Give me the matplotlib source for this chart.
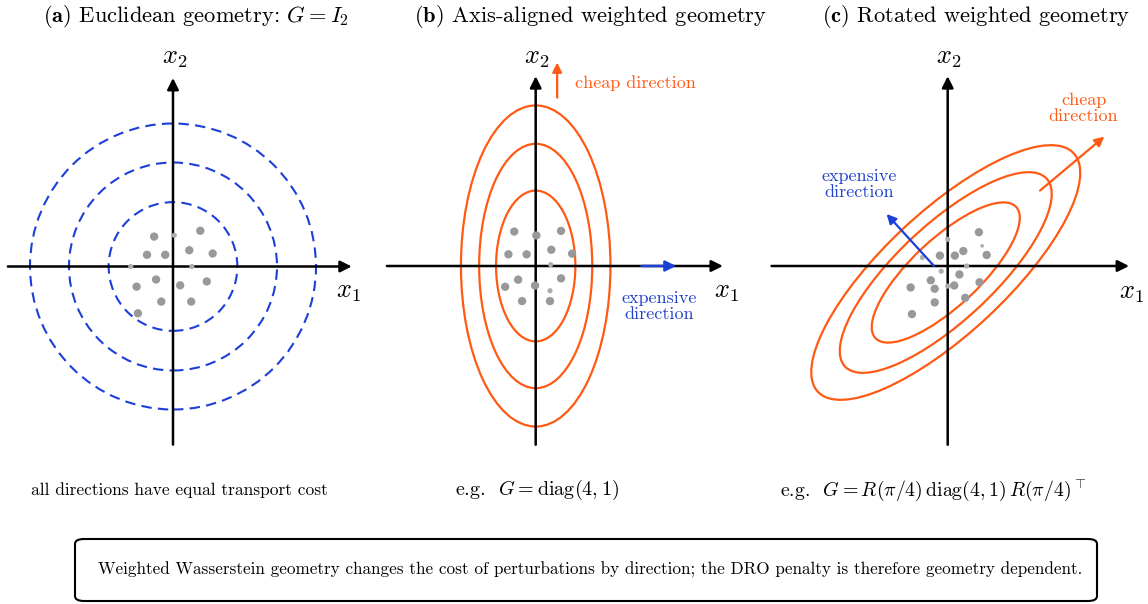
import matplotlib
matplotlib.use("Agg")
import matplotlib.pyplot as plt
from matplotlib.patches import Ellipse, FancyBboxPatch

plt.rcParams['font.family'] = ['cmr10', 'DejaVu Serif']
plt.rcParams['mathtext.fontset'] = 'cm'
plt.rcParams['axes.unicode_minus'] = False

W, H = 1148, 604
S = 65.0  # px per data unit

BLUE = '#1c3fd8'
BLUE_T = '#2342cc'
ORANGE = '#ff5a14'
GREY = '#999999'

# ---------------- data ----------------
titles = [r"($\mathbf{a}$) Euclidean geometry: $G = I_2$",
          r"($\mathbf{b}$) Axis-aligned weighted geometry",
          r"($\mathbf{c}$) Rotated weighted geometry"]
captions = ["all directions have equal transport cost",
            r"e.g.  $G = \mathrm{diag}(4,1)$",
            r"e.g.  $G = R(\pi/4)\,\mathrm{diag}(4,1)\,R(\pi/4)^{\top}$"]
footer = ("Weighted Wasserstein geometry changes the cost of perturbations by direction; "
          "the DRO penalty is therefore geometry dependent.")

# panel (a)
a_x = [-0.29, 0.02, 0.42, -0.40, -0.12, 0.25, 0.61, -0.65, 0.29, -0.26, -0.56, 0.11, 0.52, -0.18, 0.28, -0.54]
a_y = [0.46, 0.48, 0.55, 0.18, 0.18, 0.25, 0.20, 0.00, 0.00, -0.20, -0.31, -0.29, -0.23, -0.54, -0.54, -0.72]
a_small = [0, 1, 0, 0, 0, 0, 0, 1, 1, 0, 0, 0, 0, 0, 0, 0]
a_radii = [0.99, 1.60, 2.20]

# panel (b)
b_x = [-0.33, 0.01, 0.39, -0.42, -0.14, 0.24, 0.56, 0.23, -0.27, 0.39, -0.47, -0.01, 0.22, -0.21, 0.22]
b_y = [0.53, 0.47, 0.54, 0.18, 0.18, 0.25, 0.19, 0.02, -0.21, -0.19, -0.32, -0.30, -0.38, -0.54, -0.54]
b_small = [0, 0, 0, 0, 0, 0, 0, 1, 0, 0, 0, 0, 1, 0, 0]
b_semi_w = [0.61, 0.87, 1.15]
b_semi_h = [1.16, 1.88, 2.47]

# panel (c)
c_x = [0.48, 0.00, 0.53, 0.24, 0.60, -0.12, 0.11, -0.39, 0.29, -0.10, 0.18, -0.26, 0.49, -0.57, -0.20, 0.00, 0.10, 0.27, -0.20, -0.55]
c_y = [0.52, 0.41, 0.31, 0.23, 0.17, 0.16, 0.16, 0.13, 0.00, -0.08, -0.13, -0.22, -0.25, -0.33, -0.35, -0.31, -0.30, -0.49, -0.56, -0.74]
c_small = [0, 1, 2, 0, 0, 0, 0, 1, 1, 1, 0, 0, 0, 0, 0, 1, 0, 0, 0, 0]
c_major = [1.48, 2.12, 2.69]
c_minor = [0.52, 0.74, 0.94]
c_angle = 43.0
c_center = (-0.03, -0.10)

# panel centers (pixels from top-left)
centers = [(173.0, 266.5), (535.7, 266.0), (947.7, 266.0)]
h_axis = [(-2.54, 2.75), (-2.29, 2.88), (-2.71, 2.79)]
v_axis = [(-2.74, 2.90), (-2.75, 2.92), (-2.75, 2.92)]

fig = plt.figure(figsize=(W / 100, H / 100), dpi=100)
fig.patch.set_facecolor('white')

XL, YL = 2.8, 3.2


def make_ax(cx, cy):
    left = (cx - XL * S) / W
    bottom = (H - cy - YL * S) / H
    ax = fig.add_axes([left, bottom, 2 * XL * S / W, 2 * YL * S / H])
    ax.set_xlim(-XL, XL)
    ax.set_ylim(-YL, YL)
    ax.set_aspect('equal')
    ax.axis('off')
    return ax


def arrow(ax, start, tip, color, lw, ms, z=3):
    ax.annotate("", xy=tip, xytext=start,
                arrowprops=dict(arrowstyle='-|>', color=color, lw=lw,
                                mutation_scale=ms, shrinkA=0, shrinkB=0),
                annotation_clip=False, zorder=z)


def axes_arrows(ax, i):
    arrow(ax, (h_axis[i][0], 0), (h_axis[i][1], 0), 'black', 1.8, 17)
    arrow(ax, (0, v_axis[i][0]), (0, v_axis[i][1]), 'black', 1.8, 17)


def points(ax, xs, ys, small):
    sizes = [36 if s == 0 else (14 if s == 1 else 7) for s in small]
    cols = [GREY if s == 0 else '#adadad' for s in small]
    ax.scatter(xs, ys, s=sizes, c=cols, linewidths=0, zorder=4, clip_on=False)


axs = [make_ax(*c) for c in centers]

# ---- (a)
ax = axs[0]
for r in a_radii:
    ax.add_patch(Ellipse((0, 0), 2 * r, 2 * r, fill=False, ec=BLUE, lw=1.5,
                         ls=(0, (5, 3)), clip_on=False, zorder=2))
axes_arrows(ax, 0)
points(ax, a_x, a_y, a_small)

# ---- (b)
ax = axs[1]
for w, h in zip(b_semi_w, b_semi_h):
    ax.add_patch(Ellipse((0, 0), 2 * w, 2 * h, fill=False, ec=ORANGE, lw=1.6,
                         clip_on=False, zorder=2))
axes_arrows(ax, 1)
points(ax, b_x, b_y, b_small)
arrow(ax, (1.63, 0), (2.16, 0), BLUE, 1.8, 16, z=5)
arrow(ax, (0.33, 2.59), (0.33, 3.13), ORANGE, 1.6, 14, z=5)
ax.text(0.61, 2.81, "cheap direction", color=ORANGE, fontsize=13,
        ha='left', va='center')
ax.text(1.90, -0.62, "expensive\ndirection", color=BLUE_T, fontsize=13,
        ha='center', va='center', linespacing=1.05)

# ---- (c)
ax = axs[2]
for a, b in zip(c_major, c_minor):
    ax.add_patch(Ellipse(c_center, 2 * a, 2 * b, angle=c_angle, fill=False,
                         ec=ORANGE, lw=1.6, clip_on=False, zorder=2))
axes_arrows(ax, 2)
points(ax, c_x, c_y, c_small)
arrow(ax, (-0.21, 0.0), (-0.94, 0.80), BLUE, 1.6, 14, z=5)
arrow(ax, (1.42, 1.16), (2.41, 1.99), ORANGE, 1.6, 14, z=5)
ax.text(-1.36, 1.26, "expensive\ndirection", color=BLUE_T, fontsize=13,
        ha='center', va='center', linespacing=1.05)
ax.text(2.09, 2.43, "cheap\ndirection", color=ORANGE, fontsize=13,
        ha='center', va='center', linespacing=1.05)

# axis labels
x1_pos = [(2.70, -0.40), (2.94, -0.40), (2.83, -0.42)]
for i, ax in enumerate(axs):
    ax.text(*x1_pos[i], r"$x_1$", fontsize=19, ha='center', va='center')
    ax.text(0.02, 3.2, r"$x_2$", fontsize=19, ha='center', va='center')

# titles & captions
title_x = [196, 590, 976]
for tx, t in zip(title_x, titles):
    fig.text(tx / W, 1 - 16 / H, t, fontsize=16.2, ha='center', va='center')
cap_x = [179, 537, 933]
cap_fs = [12.5, 14.5, 14.3]
for cx, t, fs in zip(cap_x, captions, cap_fs):
    fig.text(cx / W, 1 - 490 / H, t, fontsize=fs, ha='center', va='center')

# footer box
box = FancyBboxPatch((75 / W, 1 - 601 / H), (1097 - 75) / W, (601 - 539) / H,
                     boxstyle="round,pad=0,rounding_size=0.008",
                     transform=fig.transFigure, fc='white', ec='black', lw=1.5)
fig.patches.append(box)
fig.text(590 / W, 1 - 570 / H, footer, fontsize=12.3, ha='center', va='center')

fig.savefig("out.png", dpi=100, facecolor='white')
